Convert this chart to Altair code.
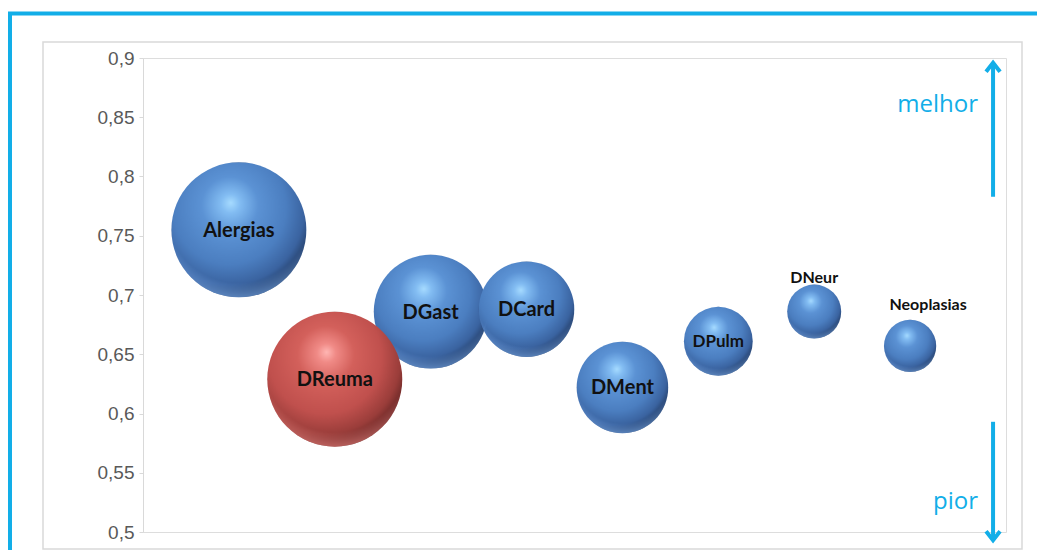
import altair as alt
import pandas as pd

# ---- data ----
categories = ["Alergias", "DReuma", "DGast", "DCard", "DMent", "DPulm", "DNeur", "Neoplasias"]
x_pos = [1, 2, 3, 4, 5, 6, 7, 8]
y_vals = [0.755, 0.629, 0.686, 0.688, 0.622, 0.661, 0.686, 0.657]
bubble_size = [100, 100, 71, 50, 46, 26, 16, 15]
highlighted = ["Não", "Sim", "Não", "Não", "Não", "Não", "Não", "Não"]
y_ticks = [0.5, 0.55, 0.6, 0.65, 0.7, 0.75, 0.8, 0.85, 0.9]

df = pd.DataFrame({
    "cat": categories,
    "x": x_pos,
    "y": y_vals,
    "size": bubble_size,
    "hl": highlighted,
})
one = pd.DataFrame({"k": [0]})

CYAN = "#12aee8"
GRAY = "#d9d9d9"


def sphere(stops):
    return alt.RadialGradient(
        gradient="radial",
        x1=0.44, y1=0.3, r1=0,
        x2=0.42, y2=0.36, r2=0.7,
        stops=[alt.GradientStop(color=c, offset=o) for o, c in stops],
    )


def rim(rgb):
    return alt.RadialGradient(
        gradient="radial",
        x1=0.5, y1=0.32, r1=0,
        x2=0.5, y2=0.36, r2=0.66,
        stops=[
            alt.GradientStop(color=f"rgba({rgb},0)", offset=0),
            alt.GradientStop(color=f"rgba({rgb},0)", offset=0.82),
            alt.GradientStop(color=f"rgba({rgb},0.55)", offset=0.95),
            alt.GradientStop(color=f"rgba({rgb},0.7)", offset=1),
        ],
    )


blue_grad = sphere([(0, "#a6dbff"), (0.1, "#82bcf2"), (0.3, "#5b92d4"), (0.6, "#4b7ec0"),
                    (0.8, "#3a63a0"), (0.92, "#253f69"), (1, "#15233b")])
red_grad = sphere([(0, "#ffb6b3"), (0.1, "#f08a86"), (0.3, "#d3605b"), (0.6, "#c0504d"),
                   (0.8, "#9a3d3a"), (0.92, "#672625"), (1, "#371212")])

xs = alt.Scale(domain=[0, 9], nice=False, zero=False)
ys = alt.Scale(domain=[0.5, 0.9], nice=False, zero=False)
ss = alt.Scale(domain=[0, 100], range=[0, 18225])

X = alt.X("x:Q", scale=xs, axis=None)
Y = alt.Y("y:Q", scale=ys, axis=alt.Axis(
    values=y_ticks, format=".2~f", labelExpr="replace(datum.label, '.', ',')",
    grid=False, domainColor=GRAY, tickColor=GRAY, tickSize=4, labelPadding=5,
    labelFont="Liberation Sans", labelFontSize=19, labelColor="#595959", title=None,
))
S = alt.Size("size:Q", scale=ss, legend=None)

base = alt.Chart(df)
blues = base.transform_filter(alt.datum.hl == "Não")
reds = base.transform_filter(alt.datum.hl == "Sim")

blue = blues.mark_circle(color=blue_grad, opacity=1).encode(x=X, y=Y, size=S)
blue_rim = blues.mark_circle(color=rim("120,170,235"), opacity=1).encode(x=X, y=Y, size=S)
red = reds.mark_circle(color=red_grad, opacity=1).encode(x=X, y=Y, size=S)
red_rim = reds.mark_circle(color=rim("235,130,125"), opacity=1).encode(x=X, y=Y, size=S)

lab_big = base.transform_filter(
    alt.FieldOneOfPredicate(field="cat", oneOf=["Alergias", "DReuma", "DGast", "DCard", "DMent"])
).mark_text(font="Lato", fontWeight="bold", fontSize=20, color="#111111", baseline="middle", dy=1).encode(
    x=X, y=Y, text="cat:N")

lab_pulm = base.transform_filter(alt.datum.cat == "DPulm").mark_text(
    font="Lato", fontWeight="bold", fontSize=17, color="#111111", baseline="middle", dy=1
).encode(x=X, y=Y, text="cat:N")

lab_neur = base.transform_filter(alt.datum.cat == "DNeur").mark_text(
    font="Lato", fontWeight="bold", fontSize=16, color="#111111", baseline="middle", dy=-34
).encode(x=X, y=Y, text="cat:N")

lab_neo = base.transform_filter(alt.datum.cat == "Neoplasias").mark_text(
    font="Lato", fontWeight="bold", fontSize=16, color="#111111", baseline="middle", dy=-41, dx=18
).encode(x=X, y=Y, text="cat:N")

o = alt.Chart(one)

# frame: outer cyan border and inner gray chart-area border
cyan_top = o.mark_rule(color=CYAN, strokeWidth=4).encode(
    x=alt.value(-135), x2=alt.value(894), y=alt.value(-44.5))
cyan_left = o.mark_rule(color=CYAN, strokeWidth=4).encode(
    x=alt.value(-133), y=alt.value(-46), y2=alt.value(492))
gray_box = o.mark_rect(fillOpacity=0, stroke=GRAY, strokeWidth=1.5).encode(
    x=alt.value(-100), x2=alt.value(879), y=alt.value(-16), y2=alt.value(491))

# arrows "melhor" / "pior"
AX = 8.865
up_line = o.mark_rule(color=CYAN, strokeWidth=4).encode(
    x=alt.datum(AX), y=alt.datum(0.896), y2=alt.datum(0.783))
up_head = o.mark_point(shape="M-1,1.3L0,0L1,1.3", filled=False, stroke=CYAN, strokeWidth=4,
                       size=196, opacity=1).encode(x=alt.datum(AX), y=alt.datum(0.896))
dn_line = o.mark_rule(color=CYAN, strokeWidth=4).encode(
    x=alt.datum(AX), y=alt.datum(0.593), y2=alt.datum(0.493))
dn_head = o.mark_point(shape="M-1,-1.3L0,0L1,-1.3", filled=False, stroke=CYAN, strokeWidth=4,
                       size=196, opacity=1).encode(x=alt.datum(AX), y=alt.datum(0.493))
t_melhor = o.mark_text(align="right", baseline="alphabetic", font="Open Sans", fontSize=24,
                       color=CYAN).encode(x=alt.datum(8.708), y=alt.datum(0.8547), text=alt.value("melhor"))
t_pior = o.mark_text(align="right", baseline="alphabetic", font="Open Sans", fontSize=24,
                     color=CYAN).encode(x=alt.datum(8.708), y=alt.datum(0.519), text=alt.value("pior"))

chart = alt.layer(
    gray_box, cyan_top, cyan_left,
    blue, blue_rim, red, red_rim, lab_big, lab_pulm, lab_neur, lab_neo,
    up_line, up_head, dn_line, dn_head, t_melhor, t_pior,
).properties(
    width=863, height=474,
    autosize="none",
    padding={"left": 135, "top": 50, "right": 31, "bottom": 18},
).configure_view(stroke=None).configure(background="white")

chart.save("out.html", embed_options={"renderer": "svg", "actions": False})
